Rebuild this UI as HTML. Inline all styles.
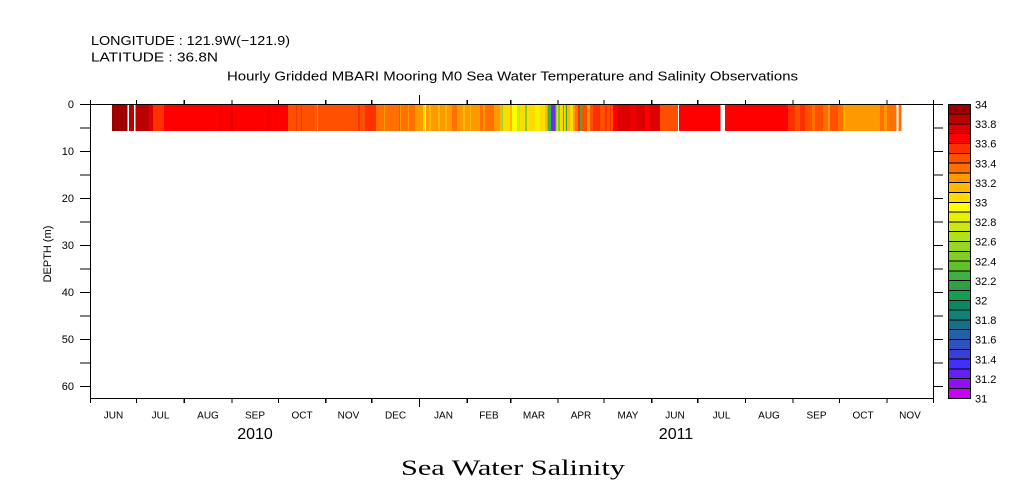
<!DOCTYPE html>
<html>
<head>
<meta charset="utf-8">
<style>
html,body{margin:0;padding:0;background:#fff;}
svg{display:block;}
text{font-family:"Liberation Sans",sans-serif;fill:#000;}
</style>
</head>
<body>
<svg width="1009" height="504" viewBox="0 0 1009 504" xmlns="http://www.w3.org/2000/svg">
<rect width="1009" height="504" fill="#fff"/>

<!-- header text -->
<text x="91" y="45" font-size="13" textLength="199" lengthAdjust="spacingAndGlyphs">LONGITUDE : 121.9W(−121.9)</text>
<text x="91" y="61.5" font-size="13" textLength="127" lengthAdjust="spacingAndGlyphs">LATITUDE : 36.8N</text>
<text x="227" y="80.5" font-size="13" textLength="571" lengthAdjust="spacingAndGlyphs">Hourly Gridded MBARI Mooring M0 Sea Water Temperature and Salinity Observations</text>

<!-- data bar -->
<g shape-rendering="crispEdges">
<rect x="112" y="105" width="15.7" height="26" fill="#990000"/>
<rect x="115" y="105" width="1.5" height="26" fill="#b00000"/>
<rect x="119" y="105" width="1.5" height="26" fill="#b00000"/>
<rect x="123" y="105" width="1.5" height="26" fill="#b00000"/>
<rect x="129" y="105" width="5" height="26" fill="#bb0000"/>
<rect x="135.7" y="105" width="13.3" height="26" fill="#bb0000"/>
<rect x="149" y="105" width="4" height="26" fill="#dd0000"/>
<rect x="153" y="105" width="11" height="26" fill="#ff3000"/>
<rect x="164" y="105" width="124" height="26" fill="#ff0000"/>
<rect x="220" y="105" width="1.5" height="26" fill="#ee0000"/>
<rect x="230.5" y="105" width="2.5" height="26" fill="#e80000"/>
<rect x="268" y="105" width="1.5" height="26" fill="#ee0000"/>
<rect x="275" y="105" width="1" height="26" fill="#ee0000"/>
<rect x="288" y="105" width="36" height="26" fill="#ff5000"/>
<rect x="296" y="105" width="1" height="26" fill="#ff3000"/>
<rect x="301" y="105" width="1" height="26" fill="#ff3000"/>
<rect x="315" y="105" width="1" height="26" fill="#ff7000"/>
<rect x="317" y="105" width="1" height="26" fill="#ff9900"/>
<rect x="324" y="105" width="34" height="26" fill="#ff5000"/>
<rect x="358" y="105" width="2" height="26" fill="#ff3000"/>
<rect x="360" y="105" width="5" height="26" fill="#ff5000"/>
<rect x="365" y="105" width="11" height="26" fill="#ff3000"/>
<rect x="376" y="105" width="39" height="26" fill="#ff7000"/>
<rect x="384" y="105" width="1" height="26" fill="#ff9900"/>
<rect x="399" y="105" width="1" height="26" fill="#ff5000"/>
<rect x="400" y="105" width="1" height="26" fill="#ff9900"/>
<rect x="408" y="105" width="1" height="26" fill="#ff9900"/>
<rect x="415" y="105" width="8" height="26" fill="#ff9900"/>
<rect x="423" y="105" width="2" height="26" fill="#ffdb00"/>
<rect x="426" y="105" width="26" height="26" fill="#ff9900"/>
<rect x="429" y="105" width="2" height="26" fill="#ffb900"/>
<rect x="438" y="105" width="2" height="26" fill="#ffb900"/>
<rect x="445" y="105" width="2" height="26" fill="#ffb900"/>
<rect x="452" y="105" width="5" height="26" fill="#ff7000"/>
<rect x="457" y="105" width="23" height="26" fill="#ff9900"/>
<rect x="463" y="105" width="2" height="26" fill="#ffb900"/>
<rect x="470" y="105" width="1" height="26" fill="#ffb900"/>
<rect x="480" y="105" width="3" height="26" fill="#ff7000"/>
<rect x="483" y="105" width="2" height="26" fill="#ff9900"/>
<rect x="485" y="105" width="9" height="26" fill="#ff7000"/>
<rect x="494" y="105" width="6" height="26" fill="#ff9900"/>
<rect x="500" y="105" width="2" height="26" fill="#ffb900"/>
<rect x="502" y="105" width="1" height="26" fill="#99d428"/>
<rect x="503" y="105" width="7" height="26" fill="#ffdb00"/>
<rect x="510" y="105" width="2" height="26" fill="#ffb900"/>
<rect x="512" y="105" width="5" height="26" fill="#ffff00"/>
<rect x="517" y="105" width="3" height="26" fill="#cce810"/>
<rect x="520" y="105" width="5" height="26" fill="#ffdb00"/>
<rect x="525" y="105" width="2" height="26" fill="#80cc28"/>
<rect x="527" y="105" width="8" height="26" fill="#ffdb00"/>
<rect x="535" y="105" width="5" height="26" fill="#f0f400"/>
<rect x="540" y="105" width="5" height="26" fill="#ffdb00"/>
<rect x="545" y="105" width="2" height="26" fill="#ffb900"/>
<rect x="547" y="105" width="1" height="26" fill="#80cc28"/>
<rect x="548" y="105" width="3" height="26" fill="#40b040"/>
<rect x="551" y="105" width="4.3" height="26" fill="#6a30f0"/>
<rect x="555.3" y="105" width="1.2" height="26" fill="#60c030"/>
<rect x="556.5" y="105" width="1.5" height="26" fill="#ffdb00"/>
<rect x="558" y="105" width="2" height="26" fill="#80cc28"/>
<rect x="560" y="105" width="5" height="26" fill="#ffdb00"/>
<rect x="563" y="105" width="1" height="26" fill="#30a040"/>
<rect x="565" y="105" width="2" height="26" fill="#b2e020"/>
<rect x="566" y="105" width="1" height="26" fill="#30a040"/>
<rect x="567" y="105" width="3" height="26" fill="#ffb900"/>
<rect x="570" y="105" width="3" height="26" fill="#ffdb00"/>
<rect x="573" y="105" width="2" height="26" fill="#ff9900"/>
<rect x="575" y="105" width="3" height="26" fill="#ff7000"/>
<rect x="578" y="105" width="2" height="26" fill="#ff3000"/>
<rect x="580" y="105" width="1.7" height="26" fill="#40b040"/>
<rect x="581.7" y="105" width="5.3" height="26" fill="#ff5000"/>
<rect x="587" y="105" width="3" height="26" fill="#ff9900"/>
<rect x="590" y="105" width="3" height="26" fill="#ff5000"/>
<rect x="593" y="105" width="7" height="26" fill="#ff3000"/>
<rect x="600" y="105" width="13" height="26" fill="#ff5000"/>
<rect x="605" y="105" width="2" height="26" fill="#ff3000"/>
<rect x="610" y="105" width="1" height="26" fill="#ff3000"/>
<rect x="613" y="105" width="5" height="26" fill="#ff0000"/>
<rect x="618" y="105" width="12" height="26" fill="#dd0000"/>
<rect x="630" y="105" width="6" height="26" fill="#ee0000"/>
<rect x="636" y="105" width="9" height="26" fill="#dd0000"/>
<rect x="645" y="105" width="5" height="26" fill="#ff0000"/>
<rect x="650" y="105" width="10" height="26" fill="#dd0000"/>
<rect x="660" y="105" width="18" height="26" fill="#ff5000"/>
<rect x="679" y="105" width="41.7" height="26" fill="#ff0000"/>
<rect x="725" y="105" width="63" height="26" fill="#ff0000"/>
<rect x="788" y="105" width="7" height="26" fill="#ff3000"/>
<rect x="795" y="105" width="5" height="26" fill="#ff5000"/>
<rect x="800" y="105" width="5" height="26" fill="#ff3000"/>
<rect x="805" y="105" width="7" height="26" fill="#ff5000"/>
<rect x="812" y="105" width="3" height="26" fill="#ff7000"/>
<rect x="815" y="105" width="8" height="26" fill="#ff5000"/>
<rect x="823" y="105" width="5" height="26" fill="#ff7000"/>
<rect x="828" y="105" width="2" height="26" fill="#ff9900"/>
<rect x="830" y="105" width="8" height="26" fill="#ff5000"/>
<rect x="838" y="105" width="5" height="26" fill="#ff7000"/>
<rect x="843" y="105" width="37" height="26" fill="#ff9900"/>
<rect x="844" y="105" width="1" height="26" fill="#ffb900"/>
<rect x="880" y="105" width="4" height="26" fill="#ff7000"/>
<rect x="884" y="105" width="3" height="26" fill="#ff9900"/>
<rect x="887" y="105" width="9.7" height="26" fill="#ff7000"/>
<rect x="898.3" y="105" width="3.4" height="26" fill="#ff7000"/>
</g>

<!-- axes -->
<g stroke="#000" stroke-width="1.2" fill="none" shape-rendering="crispEdges">
<line x1="80" y1="104.5" x2="943" y2="104.5"/>
<line x1="90.5" y1="100" x2="90.5" y2="403"/>
<line x1="933.5" y1="100" x2="933.5" y2="403"/>
<line x1="90" y1="398.5" x2="934" y2="398.5"/>
<!-- y ticks left/right -->
<path d="M80 128h10M80 151.5h10M80 175h10M80 198.5h10M80 222h10M80 245.5h10M80 269h10M80 292.5h10M80 316h10M80 339.5h10M80 363h10M80 386.5h10"/>
<path d="M933 128h10M933 151.5h10M933 175h10M933 198.5h10M933 222h10M933 245.5h10M933 269h10M933 292.5h10M933 316h10M933 339.5h10M933 363h10M933 386.5h10"/>
<!-- month ticks top -->
<path d="M136.6 100v4M184.3 100v4M231.9 100v4M278.6 100v4M325.7 100v4M371.8 100v4M419.5 95v9M467.2 100v4M510.7 100v4M557.9 100v4M604.0 100v4M651.7 100v4M697.8 100v4M745.4 100v4M793.1 100v4M839.6 100v4M886.9 100v4"/>
<!-- month ticks bottom -->
<path d="M136.6 398v5M184.3 398v5M231.9 398v5M278.6 398v5M325.7 398v5M371.8 398v5M419.5 398v9M467.2 398v5M510.7 398v5M557.9 398v5M604.0 398v5M651.7 398v5M697.8 398v5M745.4 398v5M793.1 398v5M839.6 398v5M886.9 398v5"/>
</g>

<!-- y labels -->
<g font-size="11" text-anchor="end">
<text x="74" y="108">0</text>
<text x="74" y="155">10</text>
<text x="74" y="202">20</text>
<text x="74" y="249">30</text>
<text x="74" y="296">40</text>
<text x="74" y="343">50</text>
<text x="74" y="390">60</text>
</g>
<text x="0" y="0" font-size="11" text-anchor="middle" transform="translate(51,254) rotate(-90)">DEPTH (m)</text>

<!-- month labels -->
<g font-size="10" text-anchor="middle">
<text x="113.5" y="418.5">JUN</text>
<text x="160.5" y="418.5">JUL</text>
<text x="208" y="418.5">AUG</text>
<text x="255" y="418.5">SEP</text>
<text x="302" y="418.5">OCT</text>
<text x="348.5" y="418.5">NOV</text>
<text x="395.5" y="418.5">DEC</text>
<text x="443.5" y="418.5">JAN</text>
<text x="489" y="418.5">FEB</text>
<text x="534" y="418.5">MAR</text>
<text x="581" y="418.5">APR</text>
<text x="628" y="418.5">MAY</text>
<text x="675" y="418.5">JUN</text>
<text x="721.5" y="418.5">JUL</text>
<text x="769" y="418.5">AUG</text>
<text x="816.5" y="418.5">SEP</text>
<text x="863" y="418.5">OCT</text>
<text x="910" y="418.5">NOV</text>
</g>
<g font-size="16" text-anchor="middle">
<text x="255" y="439">2010</text>
<text x="676" y="439">2011</text>
</g>

<text x="401" y="475" font-size="22" font-family="Liberation Serif, serif" style="font-family:'Liberation Serif',serif" textLength="224" lengthAdjust="spacingAndGlyphs">Sea Water Salinity</text>

<!-- colorbar -->
<g shape-rendering="crispEdges" stroke="#000" stroke-width="1">
<rect x="948.5" y="104.3" width="22" height="9.8" fill="#990000"/>
<rect x="948.5" y="114.1" width="22" height="9.8" fill="#bb0000"/>
<rect x="948.5" y="123.9" width="22" height="9.8" fill="#dd0000"/>
<rect x="948.5" y="133.7" width="22" height="9.8" fill="#ff0000"/>
<rect x="948.5" y="143.5" width="22" height="9.8" fill="#ff3000"/>
<rect x="948.5" y="153.3" width="22" height="9.8" fill="#ff5000"/>
<rect x="948.5" y="163.1" width="22" height="9.8" fill="#ff7000"/>
<rect x="948.5" y="172.9" width="22" height="9.8" fill="#ff9900"/>
<rect x="948.5" y="182.7" width="22" height="9.8" fill="#ffb900"/>
<rect x="948.5" y="192.5" width="22" height="9.8" fill="#ffdb00"/>
<rect x="948.5" y="202.3" width="22" height="9.8" fill="#ffff00"/>
<rect x="948.5" y="212.1" width="22" height="9.8" fill="#e6f000"/>
<rect x="948.5" y="221.9" width="22" height="9.8" fill="#cce810"/>
<rect x="948.5" y="231.7" width="22" height="9.8" fill="#b2e020"/>
<rect x="948.5" y="241.5" width="22" height="9.8" fill="#99d428"/>
<rect x="948.5" y="251.3" width="22" height="9.8" fill="#80cc28"/>
<rect x="948.5" y="261.1" width="22" height="9.8" fill="#60c030"/>
<rect x="948.5" y="270.9" width="22" height="9.8" fill="#40b040"/>
<rect x="948.5" y="280.7" width="22" height="9.8" fill="#30a040"/>
<rect x="948.5" y="290.5" width="22" height="9.8" fill="#10a050"/>
<rect x="948.5" y="300.3" width="22" height="9.8" fill="#088860"/>
<rect x="948.5" y="310.1" width="22" height="9.8" fill="#108078"/>
<rect x="948.5" y="319.9" width="22" height="9.8" fill="#187088"/>
<rect x="948.5" y="329.7" width="22" height="9.8" fill="#2460a8"/>
<rect x="948.5" y="339.5" width="22" height="9.8" fill="#3050c0"/>
<rect x="948.5" y="349.3" width="22" height="9.8" fill="#3840d8"/>
<rect x="948.5" y="359.1" width="22" height="9.8" fill="#4030ff"/>
<rect x="948.5" y="368.9" width="22" height="9.8" fill="#6820f0"/>
<rect x="948.5" y="378.7" width="22" height="9.8" fill="#9010f0"/>
<rect x="948.5" y="388.5" width="22" height="9.8" fill="#c800f8"/>
</g>
<g font-size="11">
<text x="975" y="108.5">34</text>
<text x="975" y="128.1">33.8</text>
<text x="975" y="147.7">33.6</text>
<text x="975" y="167.3">33.4</text>
<text x="975" y="186.9">33.2</text>
<text x="975" y="206.5">33</text>
<text x="975" y="226.1">32.8</text>
<text x="975" y="245.7">32.6</text>
<text x="975" y="265.3">32.4</text>
<text x="975" y="284.9">32.2</text>
<text x="975" y="304.5">32</text>
<text x="975" y="324.1">31.8</text>
<text x="975" y="343.7">31.6</text>
<text x="975" y="363.3">31.4</text>
<text x="975" y="382.9">31.2</text>
<text x="975" y="402.5">31</text>
</g>
</svg>
</body>
</html>
